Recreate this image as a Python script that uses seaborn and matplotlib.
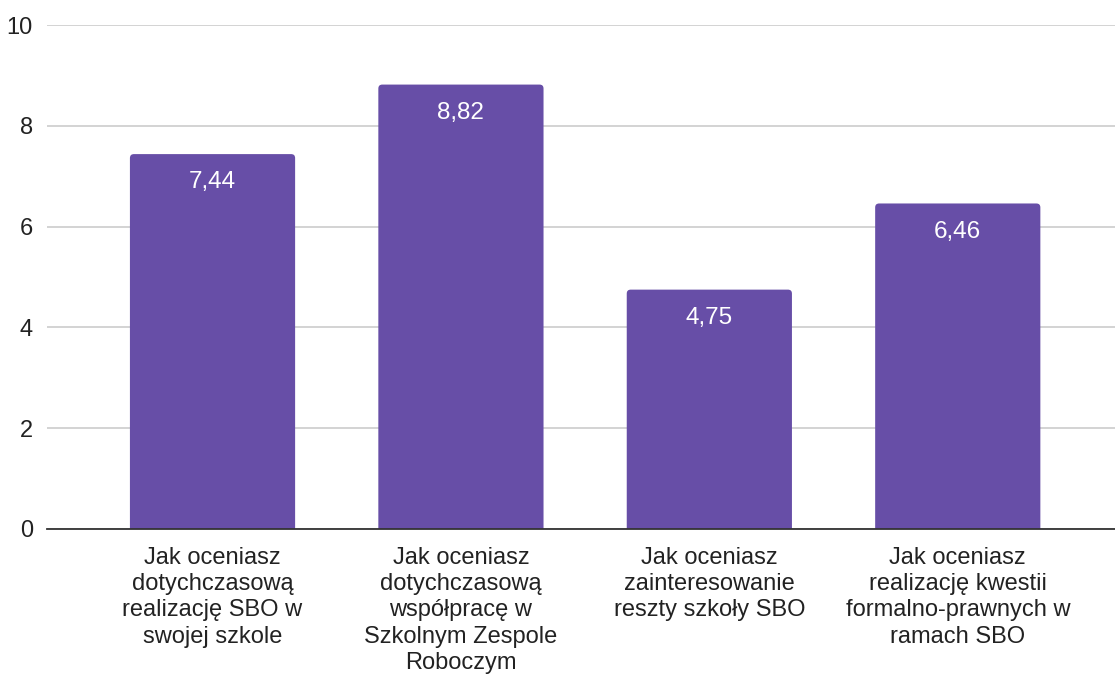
import matplotlib
matplotlib.use("Agg")
import matplotlib.pyplot as plt
import seaborn as sns
import pandas as pd
from matplotlib.patches import FancyBboxPatch

categories = [
    "Jak oceniasz\ndotychczasową\nrealizację SBO w\nswojej szkole",
    "Jak oceniasz\ndotychczasową\nwspółpracę w\nSzkolnym Zespole\nRoboczym",
    "Jak oceniasz\nzainteresowanie\nreszty szkoły SBO",
    "Jak oceniasz\nrealizację kwestii\nformalno-prawnych w\nramach SBO",
]
values = [7.44, 8.82, 4.75, 6.46]
value_labels = ["7,44", "8,82", "4,75", "6,46"]
yticks = [0, 2, 4, 6, 8, 10]

sns.set_theme(style="white")
plt.rcParams['font.family'] = ['Liberation Sans', 'DejaVu Sans']

df = pd.DataFrame({"cat": categories, "val": values})
fig = plt.figure(figsize=(11.15, 6.79), dpi=100)
ax = fig.add_axes([0.042, 0.221, 0.958, 0.742])
purple = "#674ea7"
sns.barplot(data=df, x="cat", y="val", color=purple, width=0.665, ax=ax,
            saturation=1, errorbar=None)

# rounded top corners
for i, p in enumerate(list(ax.patches)):
    x0, w, h = p.get_x(), p.get_width(), p.get_height()
    p.set_visible(False)
    fb = FancyBboxPatch((x0, -0.5), w, h + 0.5,
                        boxstyle="round,pad=0,rounding_size=0.016",
                        mutation_aspect=4.9, facecolor=purple, edgecolor="none",
                        zorder=2, clip_on=True)
    ax.add_patch(fb)
    ax.text(x0 + w / 2, h - 0.56, value_labels[i],
            ha="center", va="center", color="white", fontsize=17.5,
            family=["Liberation Sans", "DejaVu Sans"], zorder=3)

ax.set_xlim(-0.667, 3.633)
ax.set_ylim(0, 10)
ax.set_yticks(yticks)
ax.set_yticklabels([str(t) for t in yticks])
ax.yaxis.grid(True, color="#cccccc", linewidth=1.2)
ax.set_axisbelow(True)
for s in ["top", "right", "left"]:
    ax.spines[s].set_visible(False)
ax.spines["bottom"].set_color("#333333")
ax.spines["bottom"].set_linewidth(1.3)
ax.spines["bottom"].set_zorder(4)
ax.tick_params(axis="y", length=0, pad=10, labelsize=17, labelcolor="#222222")
ax.tick_params(axis="x", length=0, pad=13, labelsize=17, labelcolor="#222222")
for lbl in ax.get_xticklabels():
    lbl.set_linespacing(1.25)
ax.set_xlabel("")
ax.set_ylabel("")
fig.savefig("out.png", dpi=100)
